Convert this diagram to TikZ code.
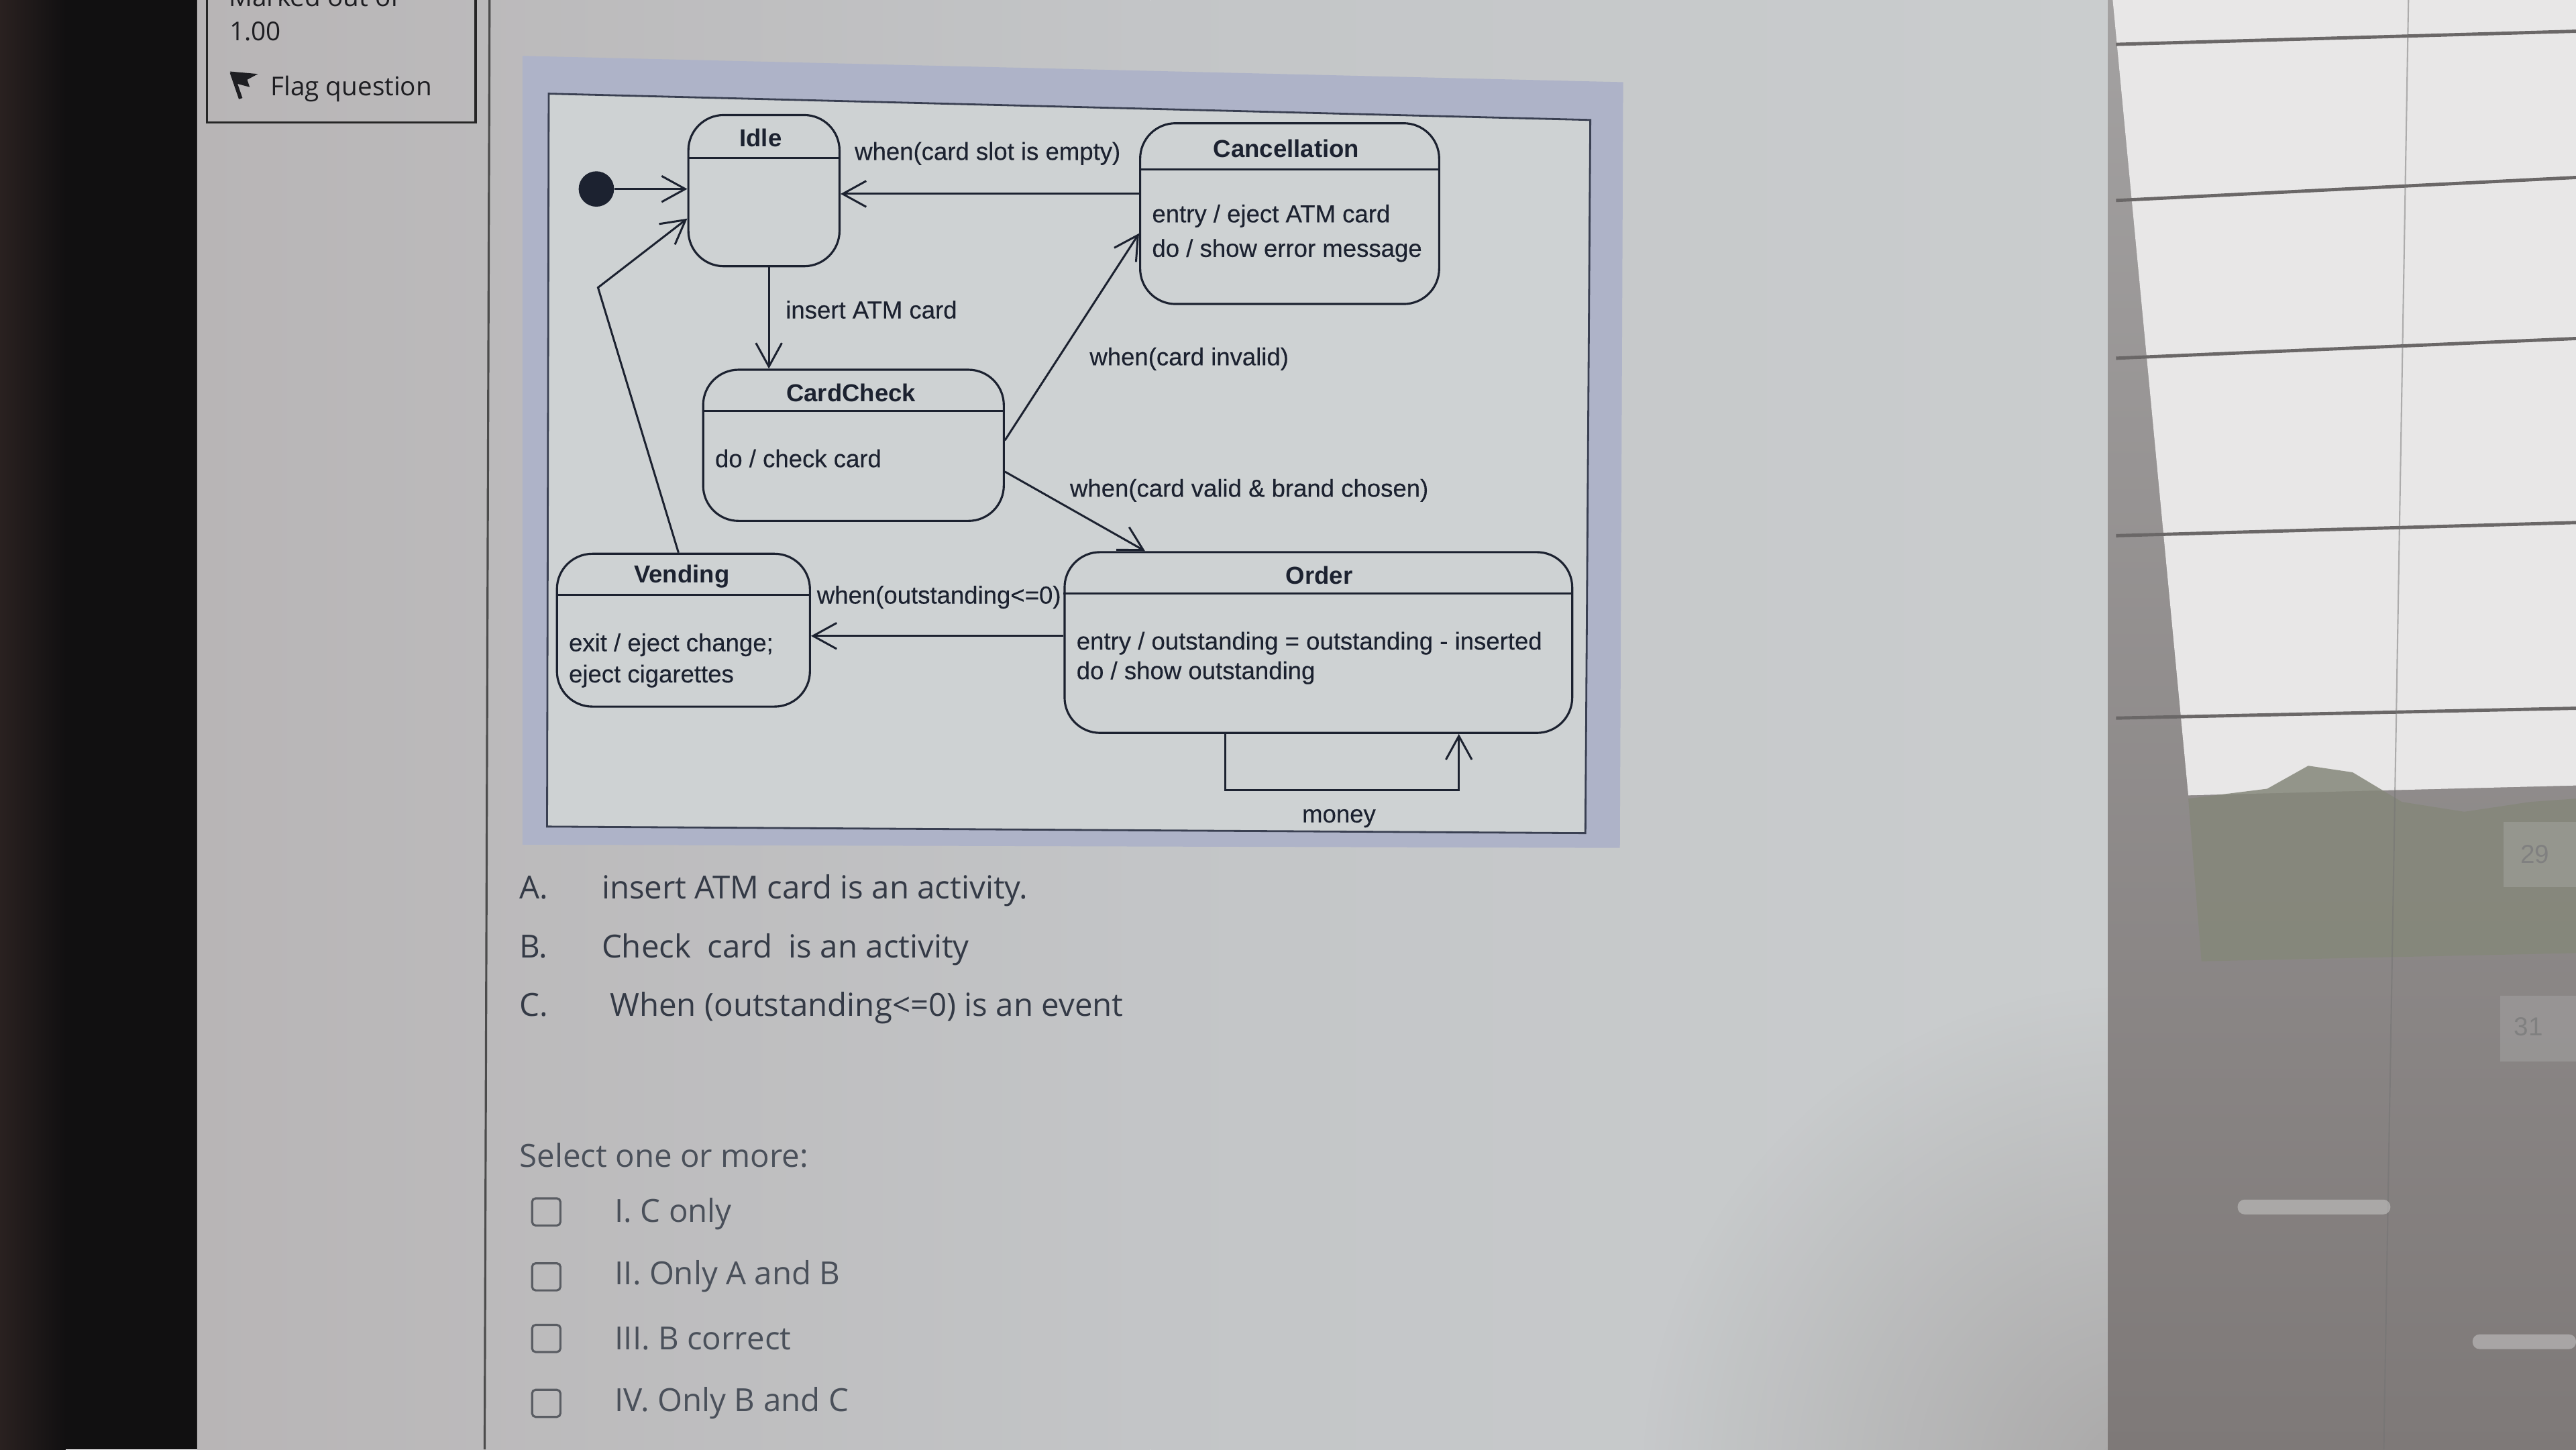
\documentclass[tikz,border=0pt]{standalone}
\usepackage{fontspec}
\setmainfont{Liberation Sans}
\newfontfamily\diagfont[FakeBold=0.35]{Liberation Sans}
\newfontfamily\osans{Open Sans}
\usetikzlibrary{arrows.meta,fit,calc,fadings}
\definecolor{ink}{HTML}{1C2230}
\definecolor{qtext}{HTML}{343A46}
\definecolor{opttext}{HTML}{4A505A}
\definecolor{boxgray}{HTML}{5A5D63}
\definecolor{frameblue}{HTML}{AEB3C8}
\definecolor{diagbg}{HTML}{CED2D3}
\definecolor{framedark}{HTML}{3A4052}
\definecolor{sidetext}{HTML}{1E1E22}
\definecolor{leftbrown}{HTML}{2A2120}
\definecolor{leftblack}{HTML}{111011}
\definecolor{pageL}{HTML}{B8B5B6}
\definecolor{pageM}{HTML}{C3C5C7}
\definecolor{pageR}{HTML}{CACDCE}
\definecolor{cornerdark}{HTML}{8E8988}
\definecolor{wallT}{HTML}{A3A1A1}
\definecolor{wallB}{HTML}{7E7978}
\definecolor{window}{HTML}{E8E7E7}
\definecolor{trees}{HTML}{85877A}
\definecolor{slat}{HTML}{6A6767}
\tikzfading[name=cornerfade, inner color=transparent!0, outer color=transparent!100]
\begin{document}
\begin{tikzpicture}[x=0.02449cm,y=-0.02449cm,
  state/.style={draw=ink, line width=0.9pt, rounded corners=15pt, inner sep=0pt},
  tr/.style={draw=ink, line width=0.85pt, -{Straight Barb[length=10pt,width=11pt]}},
  lbl/.style={font=\diagfont\fontsize{10.4}{12}\selectfont, text=ink, inner sep=0pt},
  ttl/.style={font=\bfseries\fontsize{10.4}{12}\selectfont, text=ink, inner sep=0pt},
  body/.style={lbl, anchor=mid west},
  sep/.style={draw=ink, line width=0.9pt},
  qt/.style={font=\osans\fontsize{13.5}{16}\selectfont, text=qtext, inner sep=0pt, anchor=mid west},
  opt/.style={qt, text=opttext},
  side/.style={font=\osans\fontsize{11}{13}\selectfont, text=sidetext, inner sep=0pt, anchor=base west},
  cbox/.style={draw=boxgray, line width=0.9pt, rounded corners=1.5pt, minimum width=12pt, minimum height=11.5pt, inner sep=0pt}
]
\useasboundingbox (0,0) rectangle (1568,882);

% ---------- background: left dark edge ----------
\fill[leftblack] (0,0) rectangle (121,882);
\shade[left color=leftbrown, right color=leftblack] (0,0) rectangle (40,882);

% ---------- page ----------
\shade[left color=pageL, right color=pageM] (120,0) rectangle (700,882);
\shade[left color=pageM, right color=pageR] (700,0) rectangle (1284,882);
\fill[color=cornerdark, path fading=cornerfade, opacity=0.55] (1300,900) circle (300);

% ---------- right side: window reflection ----------
\shade[top color=wallT, bottom color=wallB] (1283,0) rectangle (1568,882);
\fill[window] (1286,0) -- (1568,0) -- (1568,478) -- (1332,484) -- cycle;
\fill[trees, opacity=0.85] (1332,486) -- (1380,480) -- (1405,466) -- (1432,470) -- (1462,488) -- (1500,494) -- (1540,488) -- (1568,486)
  -- (1568,580) -- (1340,585) -- cycle;
\foreach \ya/\yb in {27/19,122/108,218/206,326/318,437/431}
  \draw[slat, line width=1.4pt] (1288,\ya) -- (1568,\yb);
\draw[black!55, line width=0.6pt, opacity=0.5] (1466,0) -- (1451,882);
\fill[gray!60, opacity=0.35] (1524,500) rectangle (1568,540);
\fill[gray!60, opacity=0.35] (1522,606) rectangle (1568,646);
\node[font=\fontsize{11}{13}\selectfont, text=black!50, inner sep=0pt] (d29) at (1543,520) {29};
\node[font=\fontsize{11}{13}\selectfont, text=black!50, inner sep=0pt] (d31) at (1539,625) {31};
\fill[gray!30!white, opacity=0.45, rounded corners=3pt] (1362,730) rectangle (1455,739);
\fill[gray!30!white, opacity=0.45, rounded corners=3pt] (1505,812) rectangle (1568,821);

% ---------- sidebar ----------
\draw[black!70, line width=0.9pt] (298,0) -- (295,882);
\draw[black!85, line width=0.9pt] (126,-3) rectangle (289.5,74.5);
\node[side] (marked) at (139,4) {Marked out of};
\node[side] (mark) at (139.5,24.5) {1.00};
\fill[sidetext] (140,43.5) -- (157,45) -- (150.5,48.5) -- (152,53) -- (144.5,51) -- cycle;
\draw[sidetext, line width=1.6pt] (141,44) -- (146.5,60);
\node[side] (flag) at (164.5,58) {Flag question};

% ---------- diagram frame ----------
\fill[frameblue] (318,34) -- (988,50) -- (986,516) -- (318,514) -- cycle;
\filldraw[fill=diagbg, draw=framedark, line width=0.8pt] (334,57) -- (968,73) -- (965,507) -- (333,503) -- cycle;

% ---------- states ----------
\node[state, fit={(419,70)(511,162)}] (idle) {};
\draw[sep] (idle.west |- 0,96) -- (idle.east |- 0,96);
\node[ttl] (idleT) at (463,84) {Idle};

\node[state, fit={(694,75)(876,185)}] (canc) {};
\draw[sep] (canc.west |- 0,103) -- (canc.east |- 0,103);
\node[ttl] (cancT) at (783,90.5) {Cancellation};
\node[body] (canc1) at (701,131.5) {entry / eject ATM card};
\node[body] (canc2) at (701,152.5) {do / show error message};

\node[state, fit={(428,225)(611,317)}] (cc) {};
\draw[sep] (cc.west |- 0,250) -- (cc.east |- 0,250);
\node[ttl] (ccT) at (518,239) {CardCheck};
\node[body] (cc1) at (435,280.5) {do / check card};

\node[state, fit={(339,337)(493,430)}] (vend) {};
\draw[sep] (vend.west |- 0,362) -- (vend.east |- 0,362);
\node[ttl] (vendT) at (415,351) {Vending};
\node[body] (vend1) at (346,392.5) {exit / eject change;};
\node[body] (vend2) at (346,411.5) {eject cigarettes};

\node[state, fit={(648,336)(957,446)}] (ord) {};
\draw[sep] (ord.west |- 0,361) -- (ord.east |- 0,361);
\node[ttl] (ordT) at (803,350) {Order};
\node[body] (ord1) at (655,391.5) {entry / outstanding = outstanding - inserted};
\node[body] (ord2) at (655,409.5) {do / show outstanding};

\node[circle, fill=ink, inner sep=0pt, minimum size=15pt] (init) at (363,115) {};

% ---------- transitions ----------
\draw[tr] (init) -- (init -| idle.west);
\draw[tr] (canc.west |- 0,118) -- (idle.east |- 0,118);
\node[body] (l1) at (520,93.5) {when(card slot is empty)};
\draw[tr] (idle.south -| 468,0) -- (cc.north -| 468,0);
\node[body] (l2) at (478,190) {insert ATM card};
\draw[tr] (cc.east |- 0,268) -- (canc.west |- 0,142);
\node[body] (l3) at (663,218.5) {when(card invalid)};
\draw[tr] (cc.east |- 0,287) -- (ord.north -| 697,0);
\node[body] (l4) at (651,298.5) {when(card valid \& brand chosen)};
\draw[tr] (ord.west |- 0,387) -- (vend.east |- 0,387);
\node[body] (l5) at (497,363.5) {when(outstanding<=0)};
\coordinate (bend) at (364,175);
\draw[tr] (vend.north -| 413,0) -- (bend) -- (idle.west |- 0,133);
\coordinate (m1) at (746,481);
\coordinate (m2) at (888,481);
\draw[tr] (ord.south -| m1) -- (m1) -- (m2) -- (ord.south -| m2);
\node[lbl] (l6) at (815,498) {money};

% ---------- question ----------
\node[qt] (qa) at (316,543) {A.};
\node[qt] (qat) at (366,543) {insert ATM card is an activity.};
\node[qt] (qb) at (316,579) {B.};
\node[qt] (qbt) at (366,579) {Check\ \ card\ \ is an activity};
\node[qt] (qc) at (316,614.5) {C.};
\node[qt] (qct) at (371,614.5) {When (outstanding<=0) is an event};

\node[opt] (sel) at (316,706.5) {Select one or more:};
\node[cbox] (b1) at (332.5,737.5) {};
\node[opt] (o1) at (374,740) {I. C only};
\node[cbox] (b2) at (332.5,777) {};
\node[opt] (o2) at (374,778) {II. Only A and B};
\node[cbox] (b3) at (332.5,814.5) {};
\node[opt] (o3) at (374,817.5) {III. B correct};
\node[cbox] (b4) at (332.5,854) {};
\node[opt] (o4) at (374,855) {IV. Only B and C};
\end{tikzpicture}
\end{document}
